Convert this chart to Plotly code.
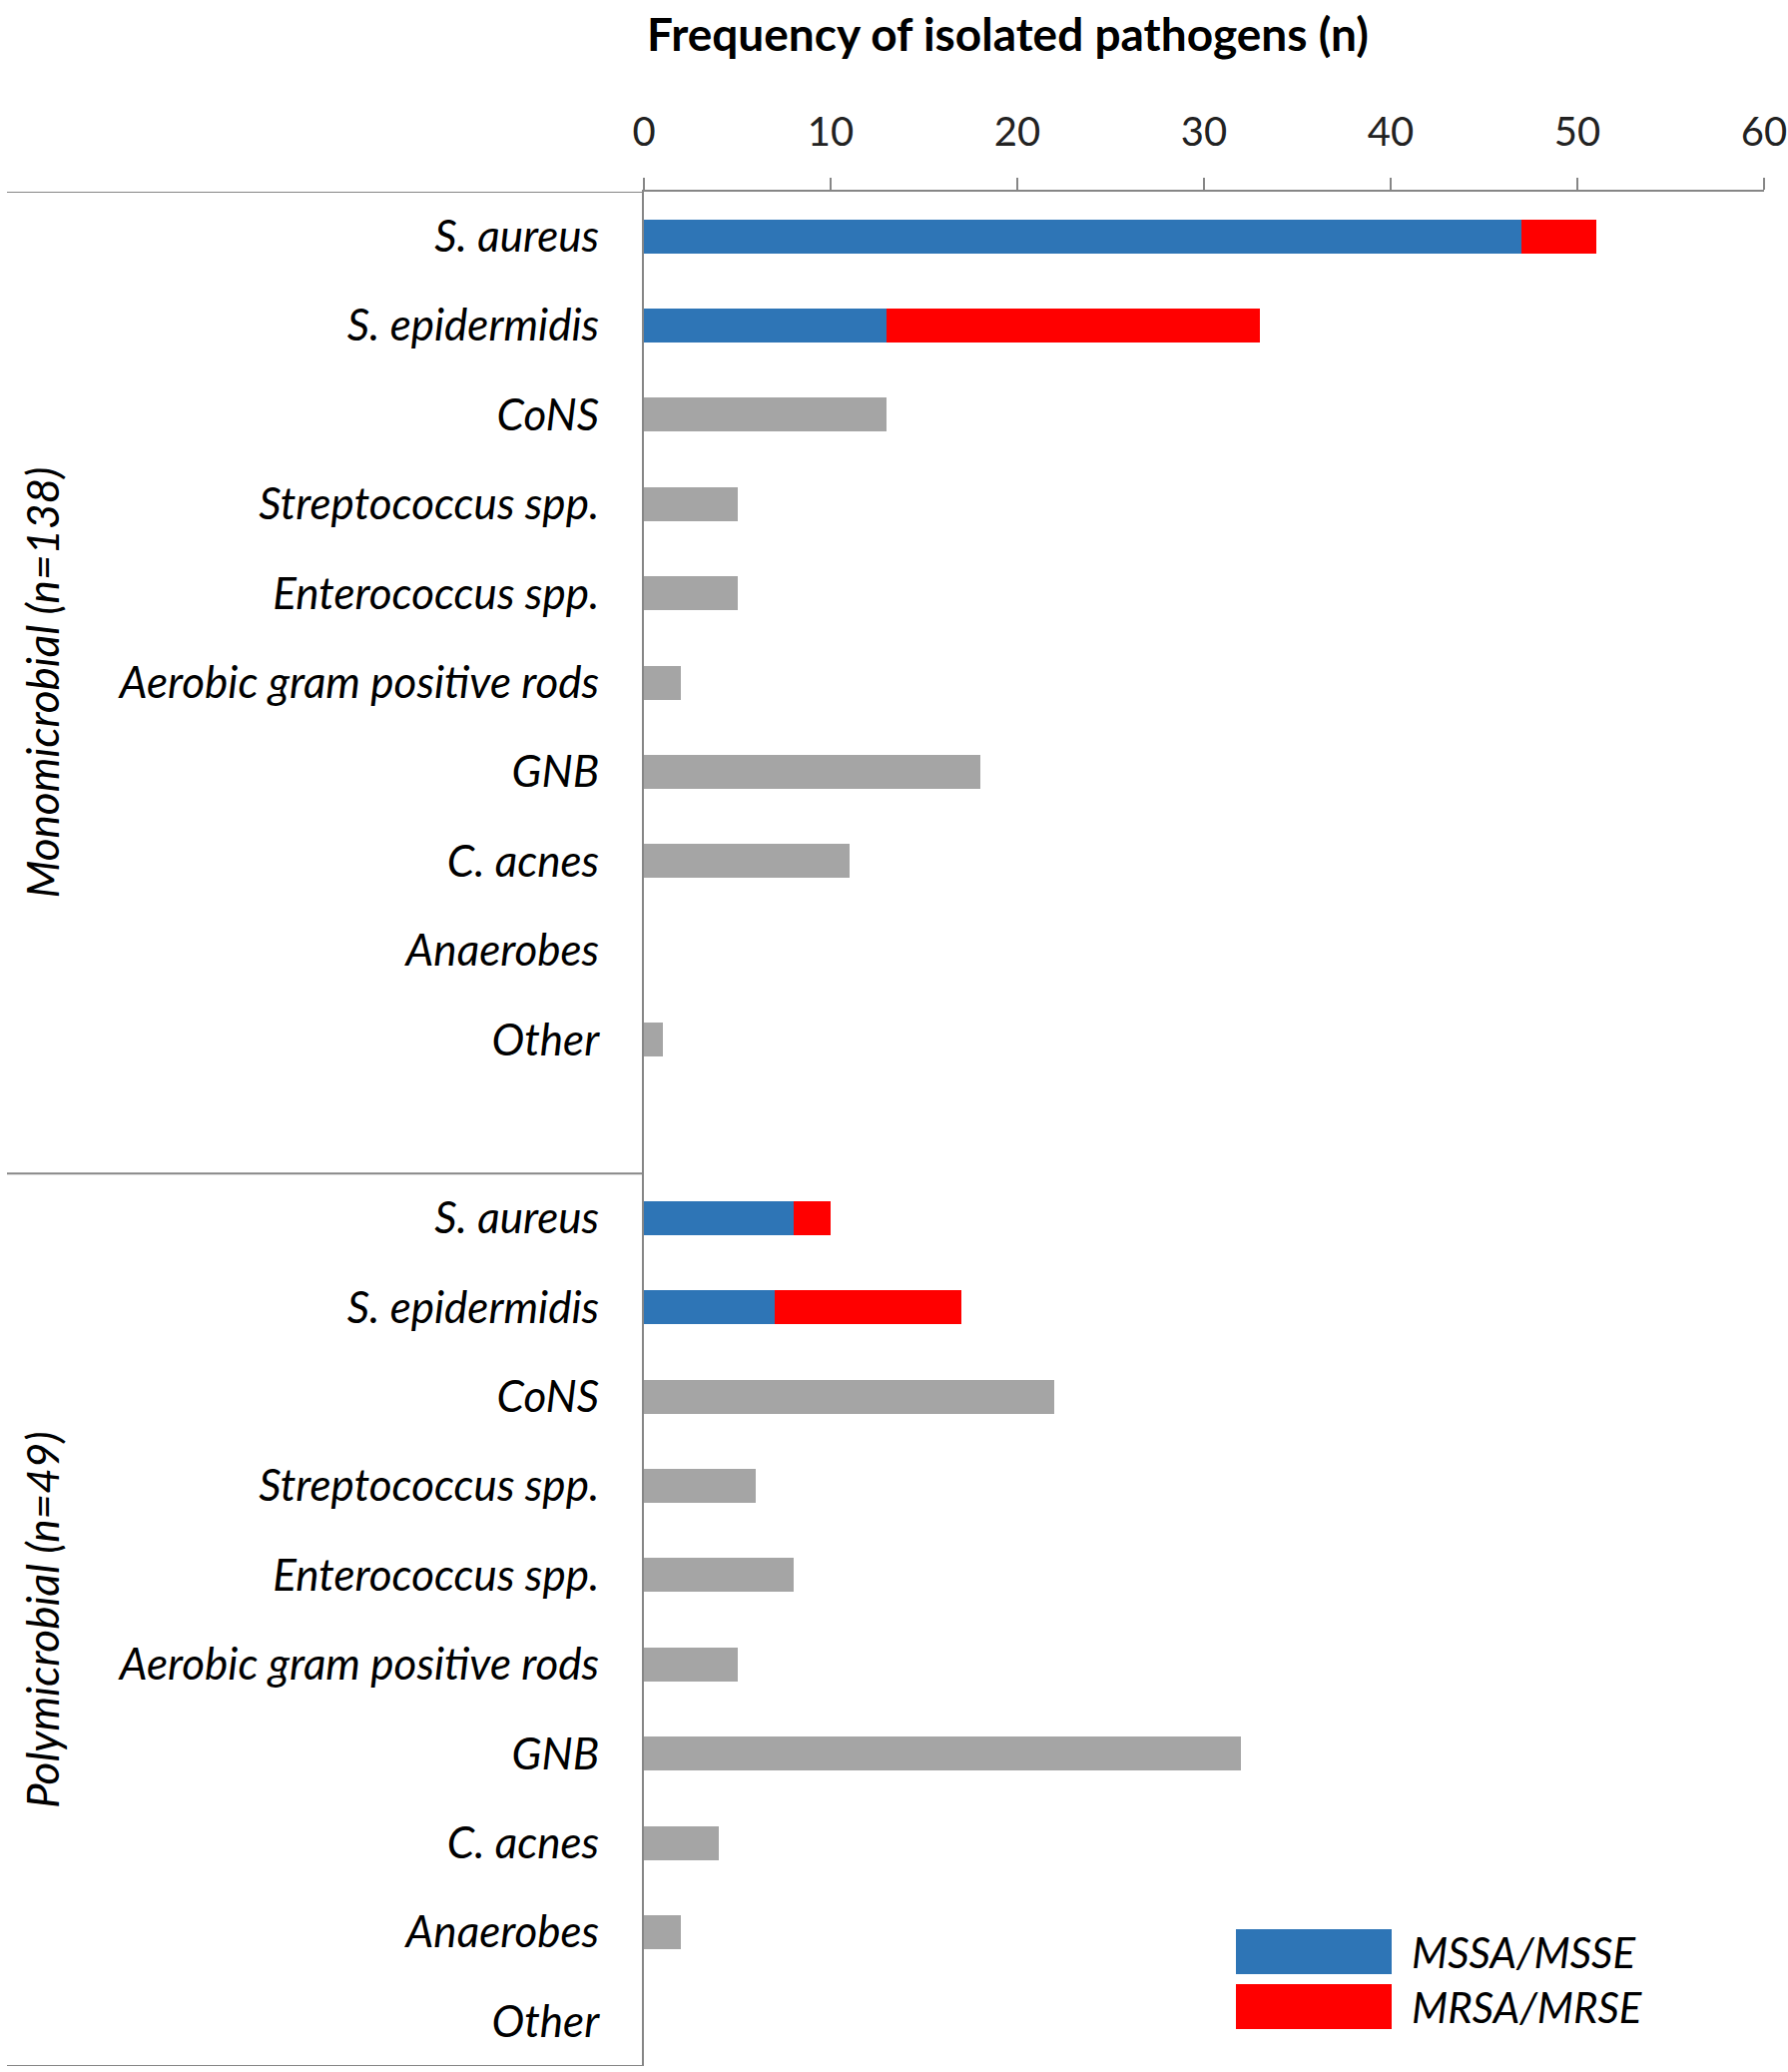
import plotly.graph_objects as go

# ---- data ----
categories = ["S. aureus", "S. epidermidis", "CoNS", "Streptococcus spp.", "Enterococcus spp.",
              "Aerobic gram positive rods", "GNB", "C. acnes", "Anaerobes", "Other"]
groups = ["Monomicrobial (n=138)", "Polymicrobial (n=49)"]

mono_sensitive = [47, 13]          # MSSA, MSSE
mono_resistant = [4, 20]           # MRSA, MRSE
mono_other = [13, 5, 5, 2, 18, 11, 0, 1]

poly_sensitive = [8, 7]
poly_resistant = [2, 10]
poly_other = [22, 6, 8, 5, 32, 4, 2, 0]

series_names = ["MSSA/MSSE", "MRSA/MRSE"]
x_ticks = [0, 10, 20, 30, 40, 50, 60]

BLUE = "#2E75B6"
RED = "#FF0000"
GRAY = "#A5A5A5"
AXIS = "#868686"
FONT = "Lato"

# row positions: 10 mono rows, one blank row, 10 poly rows
n = len(categories)
mono_pos = list(range(n))
poly_pos = [n + 1 + i for i in range(n)]
all_pos = mono_pos + poly_pos
all_labels = categories + categories

sens_pos = mono_pos[:2] + poly_pos[:2]
sens_val = mono_sensitive + poly_sensitive
res_val = mono_resistant + poly_resistant
oth_pos = mono_pos[2:] + poly_pos[2:]
oth_val = mono_other + poly_other

# page layout (body margin removed by post_script)
W, H = 1791, 2075
PL, PR, PT, PB = 645, 1767, 192, 2069   # plot area in page pixels
L, T = PL, PT
R = W - PR
B = H - PB
plot_w = PR - PL
plot_h = PB - PT


def px_x(p):
    return (p - PL) / plot_w


def px_y(p):
    return 1 - (p - PT) / plot_h


fig = go.Figure()
bw = 0.38
fig.add_trace(go.Bar(y=sens_pos, x=sens_val, orientation="h", marker_color=BLUE,
                     marker_line_width=0, width=bw, name=series_names[0], showlegend=False))
fig.add_trace(go.Bar(y=sens_pos, x=res_val, orientation="h", marker_color=RED,
                     marker_line_width=0, width=bw, name=series_names[1], showlegend=False))
fig.add_trace(go.Bar(y=oth_pos, x=oth_val, orientation="h", marker_color=GRAY,
                     marker_line_width=0, width=bw, name="Other pathogens", showlegend=False))

total_rows = 2 * n + 1
fig.update_layout(
    width=W, height=H,
    margin=dict(l=L, r=R, t=T, b=B, pad=0, autoexpand=False),
    barmode="stack",
    plot_bgcolor="white", paper_bgcolor="white",
    font=dict(family=FONT, color="black"),
    xaxis=dict(side="top", range=[0, 60], tickvals=x_ticks, ticks="outside", ticklen=12,
               tickcolor=AXIS, tickwidth=2, showline=True, linecolor=AXIS, linewidth=2,
               showgrid=False, zeroline=False, tickfont=dict(size=40, family=FONT, color="#222"),
               ticklabelstandoff=16, ticklabeloverflow="allow", automargin=False),
    yaxis=dict(range=[total_rows - 0.5, -0.5], tickvals=all_pos, ticktext=all_labels,
               showline=True, linecolor=AXIS, linewidth=2, showgrid=False, zeroline=False,
               ticks="", ticklabelstandoff=34, automargin=False,
               tickfont=dict(size=44, family=FONT, style="italic", color="black")),
)

# category-axis separators (left of the value axis)
x_left = px_x(7)
for yv in [-0.5, n + 0.5, total_rows - 0.5]:
    fig.add_shape(type="line", xref="paper", yref="y", x0=x_left, x1=0, y0=yv, y1=yv,
                  line=dict(color=AXIS, width=2))

# group labels
fig.add_annotation(x=px_x(42), y=(-0.5 + n + 0.5) / 2, xref="paper", yref="y",
                   text=groups[0], textangle=-90, showarrow=False,
                   xanchor="center", yanchor="middle",
                   font=dict(size=44, family=FONT, style="italic"))
fig.add_annotation(x=px_x(42), y=(n + 0.5 + total_rows - 0.5) / 2, xref="paper", yref="y",
                   text=groups[1], textangle=-90, showarrow=False,
                   xanchor="center", yanchor="middle",
                   font=dict(size=44, family=FONT, style="italic"))

# title
fig.add_annotation(x=px_x(1009), y=px_y(34), xref="paper", yref="paper",
                   text="<b>Frequency of isolated pathogens (n)</b>", showarrow=False,
                   xanchor="center", yanchor="middle",
                   font=dict(size=46, family=FONT, color="black"))

# legend (swatches + text)
for i, (name, col) in enumerate(zip(series_names, [BLUE, RED])):
    y0 = 1932 + i * 55
    fig.add_shape(type="rect", xref="paper", yref="paper",
                  x0=px_x(1238), x1=px_x(1394), y0=px_y(y0), y1=px_y(y0 + 45),
                  fillcolor=col, line=dict(width=0))
    fig.add_annotation(x=px_x(1412), y=px_y(y0 + 23), xref="paper", yref="paper",
                       text=name, showarrow=False, xanchor="left", yanchor="middle",
                       font=dict(size=42, family=FONT, style="italic"))

fig.write_html("out.html", config={"displayModeBar": False},
               post_script="document.body.style.margin='0';document.body.style.overflow='hidden';")
